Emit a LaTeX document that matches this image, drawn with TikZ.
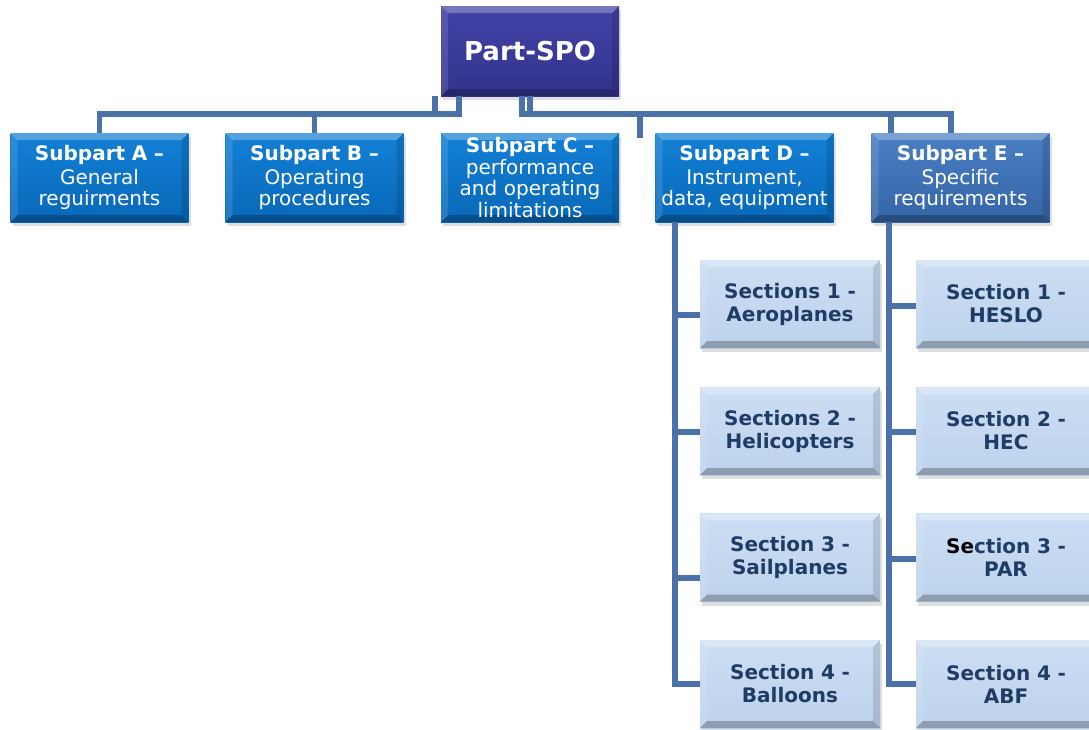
\documentclass[tikz,border=0pt]{standalone}
\usepackage{fontspec}
\setmainfont{DejaVu Sans}
\usetikzlibrary{shadows}
\definecolor{partT}{HTML}{4242A6}
\definecolor{partB}{HTML}{33338E}
\definecolor{subT}{HTML}{1280D6}
\definecolor{subB}{HTML}{0868B8}
\definecolor{subET}{HTML}{4A7FC4}
\definecolor{subEB}{HTML}{3465A6}
\definecolor{secT}{HTML}{CCDEF3}
\definecolor{secB}{HTML}{BDD2EC}
\definecolor{secnavy}{HTML}{1F3C66}
\definecolor{linkblue}{HTML}{4A72A9}
\newcommand\bevelpic{%
 \path (path picture bounding box.north west) coordinate (bnw)
       (path picture bounding box.north east) coordinate (bne)
       (path picture bounding box.south west) coordinate (bsw)
       (path picture bounding box.south east) coordinate (bse);
 \fill[white,opacity=.28](bnw)--(bne)--([xshift=-7pt,yshift=-7pt]bne)--([xshift=7pt,yshift=-7pt]bnw)--cycle;
 \fill[white,opacity=.12](bnw)--([xshift=7pt,yshift=-7pt]bnw)--([xshift=7pt,yshift=7pt]bsw)--(bsw)--cycle;
 \fill[black,opacity=.12](bne)--(bse)--([xshift=-7pt,yshift=7pt]bse)--([xshift=-7pt,yshift=-7pt]bne)--cycle;
 \fill[black,opacity=.25](bsw)--(bse)--([xshift=-7pt,yshift=7pt]bse)--([xshift=7pt,yshift=7pt]bsw)--cycle;}
\tikzset{
 bevelbox/.style={rectangle,inner sep=0pt,align=center,
  drop shadow={shadow xshift=2pt,shadow yshift=-4pt,opacity=.25},path picture={\bevelpic}},
 partbox/.style={bevelbox,top color=partT,bottom color=partB,minimum width=178pt,
  minimum height=90pt,text=white,font=\bfseries\fontsize{26}{30}\selectfont},
 subbox/.style={bevelbox,top color=subT,bottom color=subB,minimum width=178pt,
  minimum height=89pt,text width=178pt,text=white,font=\fontsize{20}{21.5}\selectfont},
 subboxE/.style={subbox,top color=subET,bottom color=subEB},
 secbox/.style={bevelbox,top color=secT,bottom color=secB,minimum width=180pt,
  minimum height=88pt,text width=180pt,text=secnavy,font=\bfseries\fontsize{20}{23}\selectfont},
 link/.style={draw=linkblue,line width=5.5pt}
}
\begin{document}
\begin{tikzpicture}[x=1pt,y=-1pt]
 \useasboundingbox (0,0) rectangle (1089,729);
 \fill[white] (0,0) rectangle (1089,729);
 \clip (0,0) rectangle (1089,729);
 \node[partbox] (part) at (530,51) {Part-SPO};
 \node[subbox] (subA) at (99.5,177.5) {{\bfseries Subpart A –}\\[2pt]General\\reguirments};
 \node[subbox] (subB) at (314.5,177.5) {{\bfseries Subpart B –}\\[2pt]Operating\\procedures};
 \node[subbox] (subC) at (530,177.5) {{\bfseries Subpart C –}\\performance\\and operating\\limitations};
 \node[subbox] (subD) at (744.5,177.5) {{\bfseries Subpart D –}\\[2pt]Instrument,\\data, equipment};
 \node[subboxE] (subE) at (960.5,177.5) {{\bfseries Subpart E –}\\[2pt]Specific\\requirements};
 \foreach \s/\y/\txt in {a/304/Sections 1 -\\Aeroplanes, b/431/Sections 2 -\\Helicopters,
   c/557.5/Section 3 -\\Sailplanes, d/684/Section 4 -\\Balloons}
  \node[secbox] (secD\s) at (790,\y) {\txt};
 \foreach \s/\y/\txt in {a/304/Section 1 -\\HESLO, b/431/Section 2 -\\HEC,
   c/557.5/{\color{black}Se}ction 3 -\\PAR, d/684/Section 4 -\\ABF}
  \node[secbox] (secE\s) at (1006,\y) {\txt};
 \coordinate (busL) at (459,114);
 \coordinate (stubL) at (435,114);
 \coordinate (busR) at (522,114);
 \coordinate (stubR) at (530,114);
 \coordinate (busE) at (951,114);
 \coordinate (busE2) at (891,114);
 \coordinate (stubC) at (640,138);
 \coordinate (trunkD) at (675,0);
 \coordinate (trunkE) at (889,0);
 \draw[link] (subA.north) |- (busL) -- (busL |- part.south);
 \draw[link] (subB.north) -- (subB.north |- busL);
 \draw[link] (stubL) -- (stubL |- part.south);
 \draw[link] (busR |- part.south) -- (busR) -- (busE) -- (busE |- subE.north);
 \draw[link] (stubR |- part.south) -- (stubR);
 \draw[link] (busE2) -- (busE2 |- subE.north);
 \draw[link] (stubC |- busR) -- (stubC);
 \draw[link] (subD.south -| trunkD) |- (secDd.west);
 \draw[link] (trunkD |- 0,315) -- (secDa.west |- 0,315);
 \draw[link] (trunkD |- 0,432) -- (secDb.west |- 0,432);
 \draw[link] (trunkD |- 0,578) -- (secDc.west |- 0,578);
 \draw[link] (subE.south -| trunkE) |- (secEd.west);
 \draw[link] (trunkE |- 0,306) -- (secEa.west |- 0,306);
 \draw[link] (trunkE |- 0,432) -- (secEb.west |- 0,432);
 \draw[link] (trunkE |- 0,559) -- (secEc.west |- 0,559);
\end{tikzpicture}
\end{document}
